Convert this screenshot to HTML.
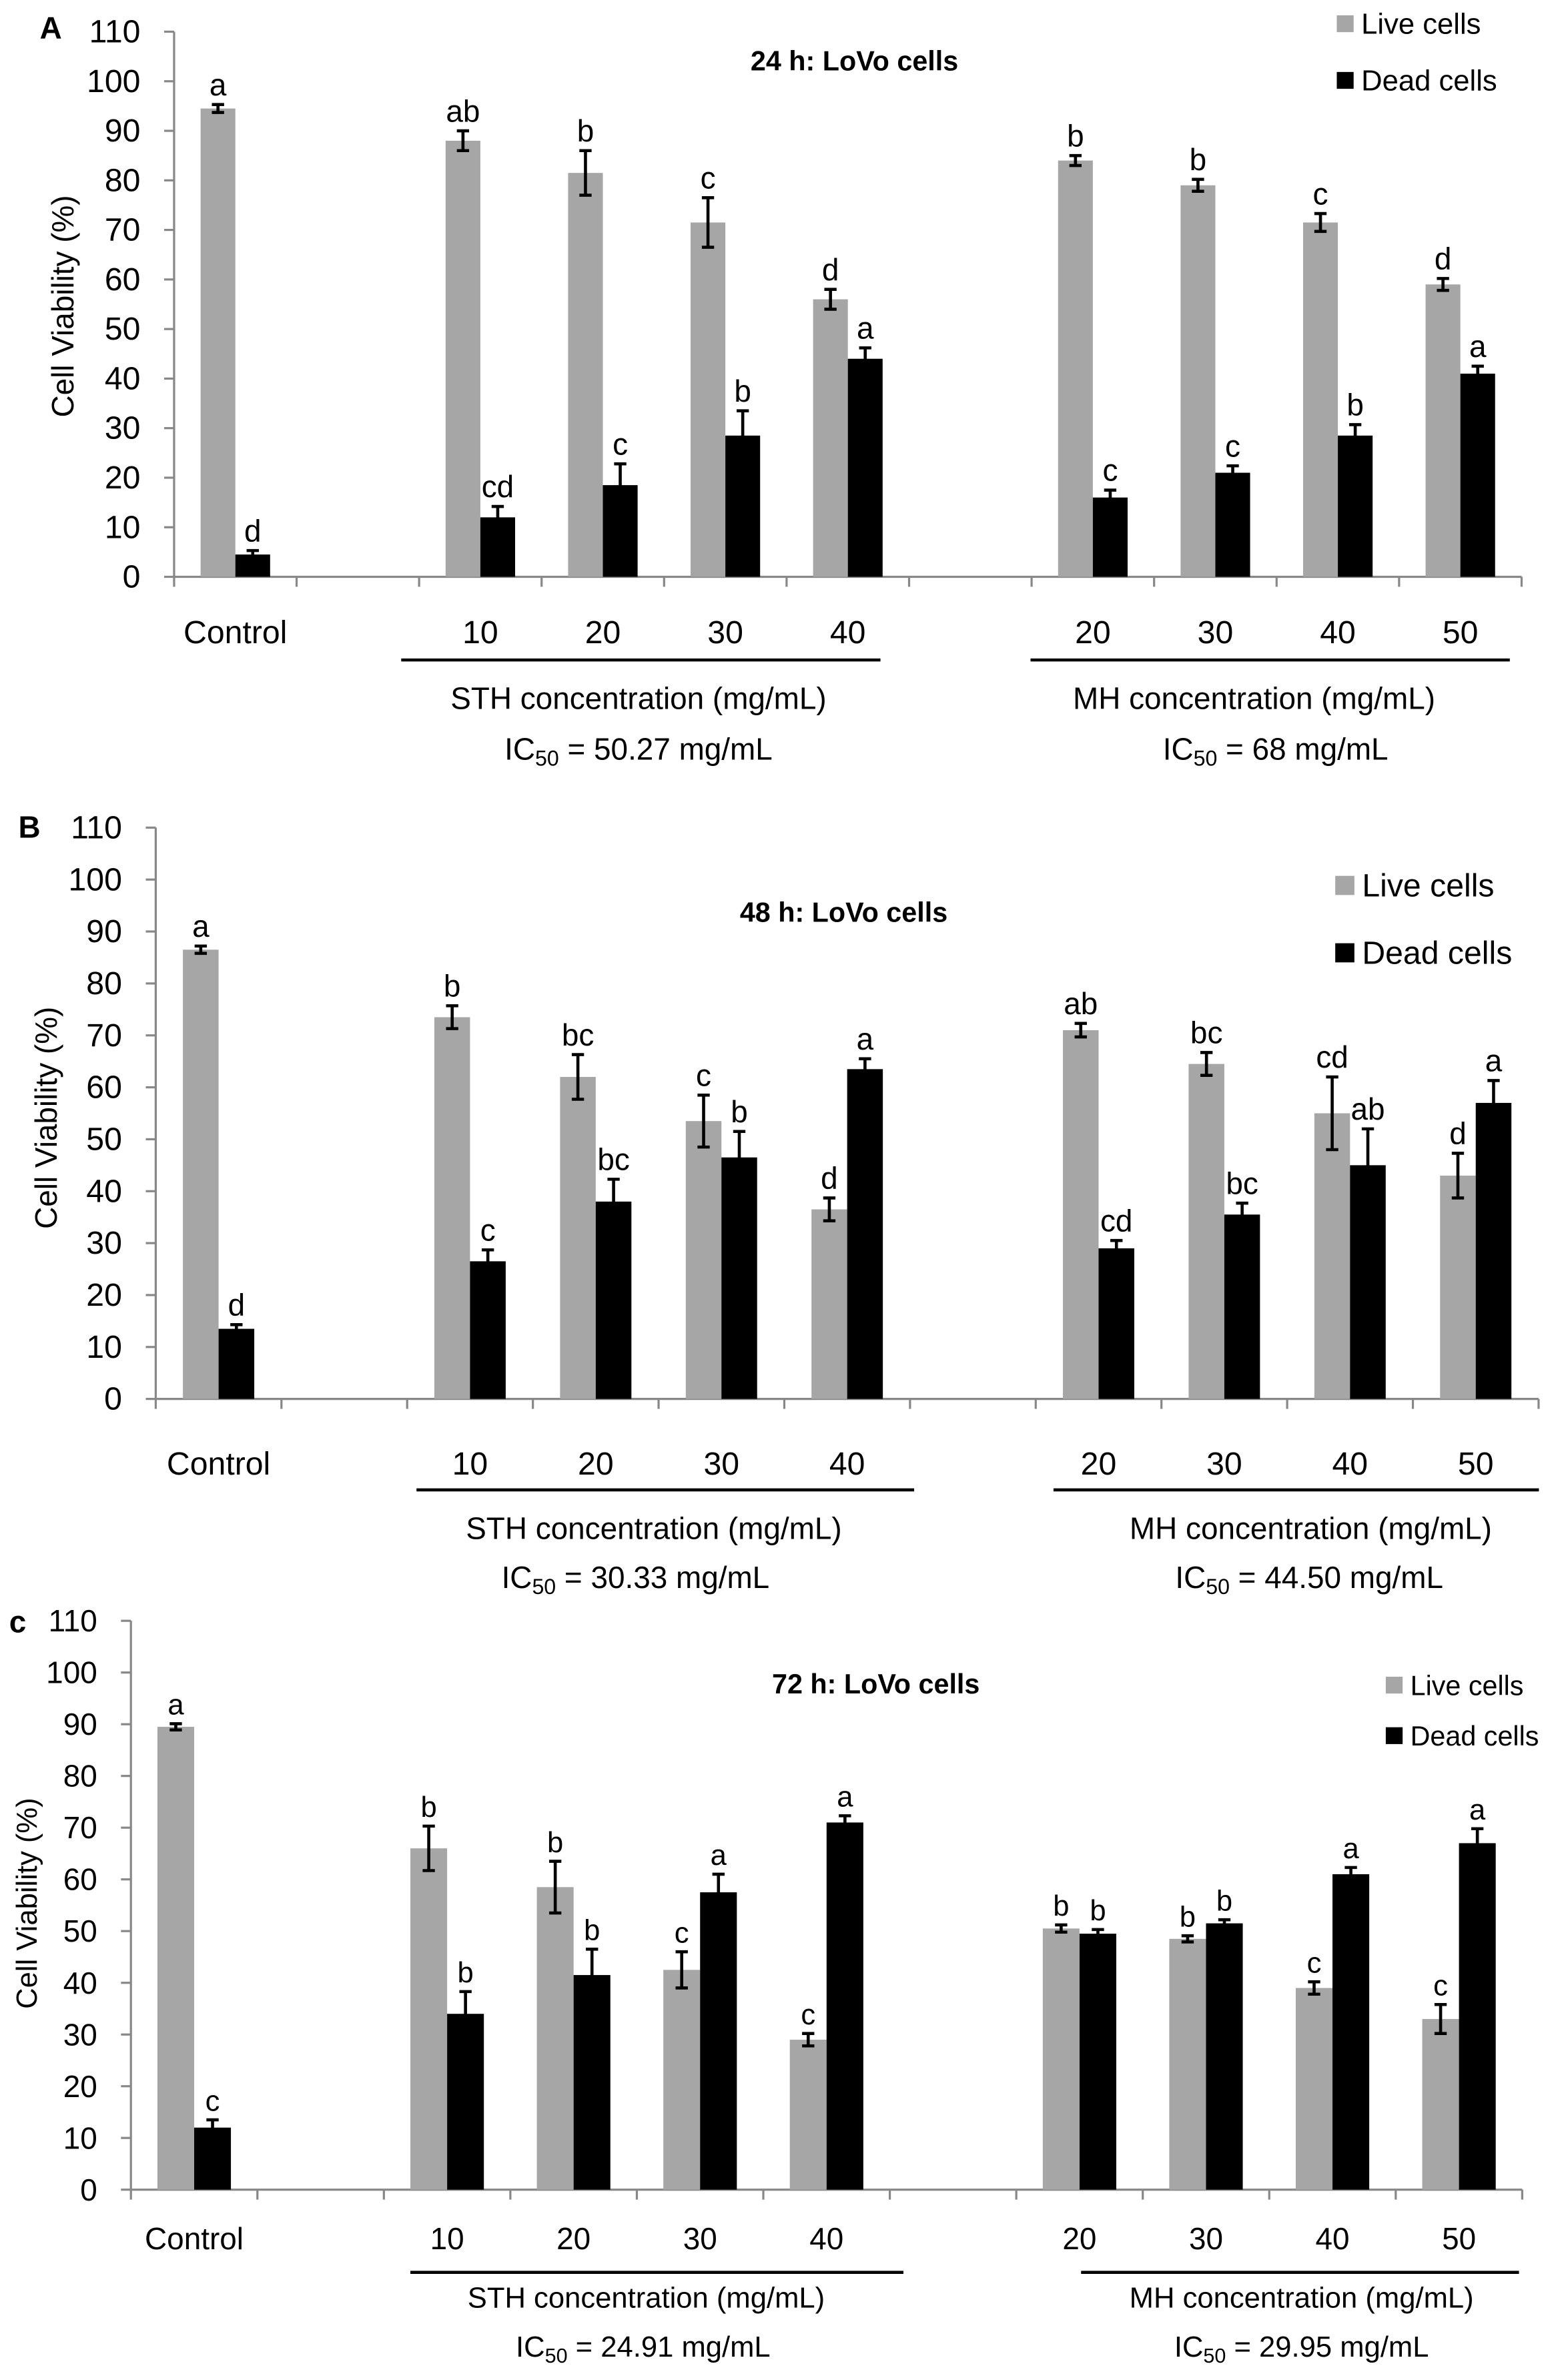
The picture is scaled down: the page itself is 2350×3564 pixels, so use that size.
<!DOCTYPE html>
<html><head><meta charset="utf-8">
<style>
html,body{margin:0;padding:0;background:#fff;}
svg{display:block;font-family:"Liberation Sans",Arial,sans-serif;}
</style></head>
<body>
<svg id="fig" xmlns="http://www.w3.org/2000/svg" width="2350" height="3564" viewBox="0 0 1024 1553">
<rect x="0" y="0" width="1024" height="1553" fill="#fff"/>
</svg>
<script>
const categories = ["Control","","10","20","30","40","","20","30","40","50"];
const barSlots = [0,2,3,4,5,7,8,9,10];
const yTicks = [0,10,20,30,40,50,60,70,80,90,100,110];

const liveA = [94.5,88,81.5,71.5,56,84,79,71.5,59];
const liveErrA = [0.8,2,4.5,5,2,1,1.2,1.8,1.2];
const deadA = [4.5,12,18.5,28.5,44,16,21,28.5,41];
const deadErrA = [0.8,2.2,4.3,5,2.2,1.5,1.4,2.2,1.5];
const liveLetA = ["a","ab","b","c","d","b","b","c","d"];
const deadLetA = ["d","cd","c","b","a","c","c","b","a"];

const liveB = [86.5,73.5,62,53.5,36.5,71,64.5,55,43];
const liveErrB = [0.7,2.2,4.3,5,2.2,1.3,2.2,7,4.3];
const deadB = [13.5,26.5,38,46.5,63.5,29,35.5,45,57];
const deadErrB = [0.8,2.2,4.3,5,2,1.5,2.2,7,4.3];
const liveLetB = ["a","b","bc","c","d","ab","bc","cd","d"];
const deadLetB = ["d","c","bc","b","a","cd","bc","ab","a"];

const liveC = [89.5,66,58.5,42.5,29,50.5,48.5,39,33];
const liveErrC = [0.6,4.3,5,3.5,1.2,0.7,0.6,1.2,2.8];
const deadC = [12,34,41.5,57.5,71,49.5,51.5,61,67];
const deadErrC = [1.5,4.3,5,3.5,1.3,0.8,0.7,1.3,2.8];
const liveLetC = ["a","b","b","c","c","b","b","c","c"];
const deadLetC = ["c","b","b","a","a","b","b","a","a"];

const NS = "http://www.w3.org/2000/svg";
const svg = document.getElementById("fig");
function mk(tag, attrs, parent, text){
  const e = document.createElementNS(NS, tag);
  for (const k in attrs) e.setAttribute(k, attrs[k]);
  if (text !== undefined) e.textContent = text;
  (parent||svg).appendChild(e);
  return e;
}

const panels = [
 {id:"a", label:"A", labelX:26, labelY:25, title:"24 h: LoVo cells", titleX:558, titleY:46,
  ax:113.7, y0:376.7, y110:20.7, slot:80, bw:22.7, fs:20, catY:420, lineY:431, textY:463, icY:496,
  sthX1:262, sthX2:575, mhX1:673, mhX2:986, sthC:417, mhC:819, icS:"50.27", icM:"68", icSC:417, icMC:833,
  yTitleX:48, yTitleY:200, legX:873, legY1:10, legY2:47, legFs:19, sq:11, live:liveA, liveE:liveErrA, dead:deadA, deadE:deadErrA, lL:liveLetA, dL:deadLetA},
 {id:"b", label:"B", labelX:12, labelY:547, title:"48 h: LoVo cells", titleX:551, titleY:602,
  ax:101.7, y0:913.6, y110:540.5, slot:82.1, bw:23.3, fs:20, catY:963, lineY:973, textY:1005, icY:1037,
  sthX1:272, sthX2:597, mhX1:688, mhX2:1005, sthC:427, mhC:856, icS:"30.33", icM:"44.50", icSC:415, icMC:855,
  yTitleX:37, yTitleY:730, legX:872, legY1:572, legY2:616, legFs:21, sq:12.5, live:liveB, liveE:liveErrB, dead:deadB, deadE:deadErrB, lL:liveLetB, dL:deadLetB},
 {id:"c", label:"c", labelX:6, labelY:1066, title:"72 h: LoVo cells", titleX:572, titleY:1106,
  ax:85.5, y0:1430, y110:1058.5, slot:82.6, bw:24, fs:19, catY:1469, lineY:1484, textY:1507, icY:1539,
  sthX1:268, sthX2:590, mhX1:706, mhX2:992, sthC:422, mhC:850, icS:"24.91", icM:"29.95", icSC:420, icMC:850,
  yTitleX:24, yTitleY:1243, legX:905, legY1:1095, legY2:1128, legFs:18, sq:11, live:liveC, liveE:liveErrC, dead:deadC, deadE:deadErrC, lL:liveLetC, dL:deadLetC}
];

panels.forEach(p => {
  const g = mk("g", {});
  
  
  const yS = v => p.y0 - (v/110)*(p.y0 - p.y110);
  const xEnd = p.ax + p.slot*categories.length;

  const pl = mk("text", {x:p.labelX, y:p.labelY, "font-size":20, "font-weight":"bold"}, g, p.label);
  
  

  const yAxis = mk("line", {x1:p.ax, y1:p.y110, x2:p.ax, y2:p.y0, stroke:"#888", "stroke-width":1.4}, g);
  
  
  yTicks.forEach(t => {
    const y = yS(t);
    const tk = mk("line", {x1:p.ax-6.5, y1:y, x2:p.ax, y2:y, stroke:"#888", "stroke-width":1.4}, g);
    
    
    const tl = mk("text", {x:p.ax-22, y:y+7, "font-size":p.fs+1, "text-anchor":"end"}, g, String(t));
    
    
  });
  const yt = mk("text", {x:p.yTitleX, y:p.yTitleY, "font-size":p.fs, "text-anchor":"middle", transform:"rotate(-90 "+p.yTitleX+" "+p.yTitleY+")"}, g, "Cell  Viability (%)");
  
  

  const xAxis = mk("line", {x1:p.ax, y1:p.y0, x2:xEnd, y2:p.y0, stroke:"#888", "stroke-width":1.4}, g);
  
  
  for (let i=0;i<=categories.length;i++){
    const x = p.ax + i*p.slot;
    const tk = mk("line", {x1:x, y1:p.y0, x2:x, y2:p.y0+6.5, stroke:"#888", "stroke-width":1.4}, g);
    
    
  }
  categories.forEach((c,i) => {
    if (!c) return;
    const cl = mk("text", {x:p.ax + (i+0.5)*p.slot, y:p.catY, "font-size":p.fs+1, "text-anchor":"middle"}, g, c);
    
    
  });

  barSlots.forEach((s,j) => {
    const cx = p.ax + (s+0.5)*p.slot;
    [[p.live[j], p.liveE[j], p.lL[j], cx - p.bw, "#a6a6a6", "live"],
     [p.dead[j], p.deadE[j], p.dL[j], cx, "#000", "dead"]].forEach(([v,e,l,x,col,kind]) => {
      const top = yS(v);
      const r = mk("rect", {x:x, y:top, width:p.bw, height:p.y0-top, fill:col}, g);
      
      
      const bx = x + p.bw/2;
      const eh = yS(v+e), el = yS(v-e);
      const eb = mk("path", {d:"M"+bx+" "+eh+"V"+el+"M"+(bx-4)+" "+eh+"H"+(bx+4)+"M"+(bx-4)+" "+el+"H"+(bx+4), stroke:"#000", "stroke-width":2, fill:"none"}, g);
      
      
      const lt = mk("text", {x:bx, y:eh-6, "font-size":p.fs, "text-anchor":"middle"}, g, l);
      
      
    });
  });

  const l1 = mk("line", {x1:p.sthX1, y1:p.lineY, x2:p.sthX2, y2:p.lineY, stroke:"#000", "stroke-width":2}, g);
  
  
  const l2 = mk("line", {x1:p.mhX1, y1:p.lineY, x2:p.mhX2, y2:p.lineY, stroke:"#000", "stroke-width":2}, g);
  
  
  const t1 = mk("text", {x:p.sthC, y:p.textY, "font-size":p.fs, "text-anchor":"middle"}, g, "STH concentration (mg/mL)");
  
  
  const t2 = mk("text", {x:p.mhC, y:p.textY, "font-size":p.fs, "text-anchor":"middle"}, g, "MH concentration (mg/mL)");
  
  
  [[p.icSC, p.icS, 'sth-ic50'], [p.icMC, p.icM, 'mh-ic50']].forEach(([x,val,nm]) => {
    const t = mk("text", {x:x, y:p.icY, "font-size":p.fs, "text-anchor":"middle"}, g);
    
    
    mk("tspan", {}, t, "IC");
    mk("tspan", {"font-size":p.fs*0.7, dy:4}, t, "50");
    mk("tspan", {dy:-4}, t, " = " + val + " mg/mL");
  });

  const tt = mk("text", {x:p.titleX, y:p.titleY, "font-size":18, "font-weight":"bold", "text-anchor":"middle"}, g, p.title);
  
  

  [[p.legY1, "#a6a6a6", "Live cells", "live"], [p.legY2, "#000", "Dead cells", "dead"]].forEach(([y,col,txt,kind]) => {
    const lg = mk("g", {}, g);
    
    
    mk("rect", {x:p.legX, y:y, width:p.sq, height:p.sq, fill:col}, lg);
    mk("text", {x:p.legX + p.sq + 5, y:y + p.sq + 1, "font-size":p.legFs}, lg, txt);
  });
});
</script>
</body></html>
